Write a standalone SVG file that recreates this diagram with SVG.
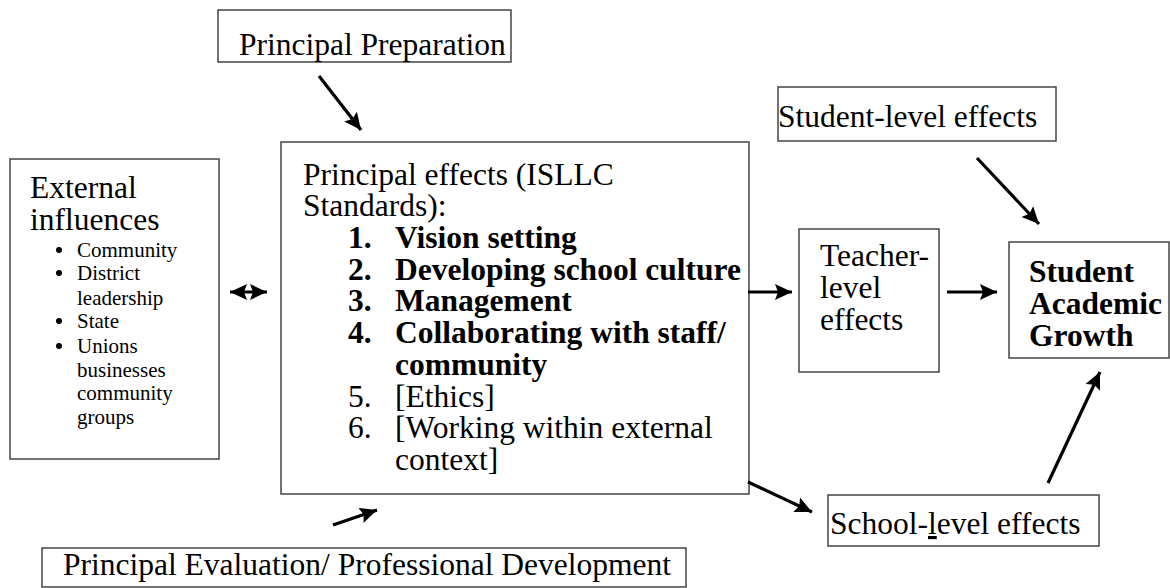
<svg xmlns="http://www.w3.org/2000/svg" width="1170" height="588" viewBox="0 0 1170 588" font-family="'Liberation Serif', Tinos, 'Times New Roman', Times, serif">
<style>
.box{fill:#fff;stroke:#444;stroke-width:1.5}
.t{font-family:'Liberation Serif', Tinos, 'Times New Roman', Times, serif;font-size:31.5px;fill:#000}
.b{font-weight:bold}
.s{font-family:'Liberation Serif', Tinos, 'Times New Roman', Times, serif;font-size:21px;fill:#000}
.c{stroke:#000;stroke-width:3.2;fill:none}
</style>
<defs>
<marker id="ah" markerUnits="userSpaceOnUse" markerWidth="20" markerHeight="18" refX="17" refY="8" orient="auto">
<path d="M0,0 L17,8 L0,16 L3,8 z" fill="#000"/>
</marker>
<marker id="as" markerUnits="userSpaceOnUse" markerWidth="20" markerHeight="18" refX="0" refY="8" orient="auto">
<path d="M17,0 L0,8 L17,16 L14,8 z" fill="#000"/>
</marker>
</defs>
<g id="prep">
<rect class="box" x="218" y="10" width="293" height="52"/>
<text class="t" x="239" y="55">Principal Preparation</text>
</g>
<g id="external">
<rect class="box" x="10" y="159" width="209" height="300"/>
<text class="t" x="30" y="198">External</text>
<text class="t" x="30" y="230">influences</text>
<g fill="#000">
<circle cx="59" cy="250" r="3"/>
<circle cx="59" cy="273" r="3"/>
<circle cx="59" cy="321" r="3"/>
<circle cx="59" cy="346" r="3"/>
</g>
<text class="s" x="77" y="257">Community</text>
<text class="s" x="77" y="280">District</text>
<text class="s" x="77" y="305">leadership</text>
<text class="s" x="77" y="328">State</text>
<text class="s" x="77" y="353">Unions</text>
<text class="s" x="77" y="377">businesses</text>
<text class="s" x="77" y="400">community</text>
<text class="s" x="77" y="424">groups</text>
</g>
<g id="principal">
<rect class="box" x="281" y="142" width="468" height="352"/>
<text class="t" x="303" y="185">Principal effects (ISLLC</text>
<text class="t" x="303" y="216">Standards):</text>
<text class="t b" x="348" y="248">1.</text><text class="t b" x="395" y="248">Vision setting</text>
<text class="t b" x="348" y="280">2.</text><text class="t b" x="395" y="280">Developing school culture</text>
<text class="t b" x="348" y="311">3.</text><text class="t b" x="395" y="311">Management</text>
<text class="t b" x="348" y="343">4.</text><text class="t b" x="395" y="343">Collaborating with staff/</text>
<text class="t b" x="395" y="375">community</text>
<text class="t" x="348" y="407">5.</text><text class="t" x="395" y="407">[Ethics]</text>
<text class="t" x="348" y="438">6.</text><text class="t" x="395" y="438">[Working within external</text>
<text class="t" x="395" y="470">context]</text>
</g>
<g id="teacher">
<rect class="box" x="799" y="229" width="140" height="143"/>
<text class="t" x="820" y="266">Teacher-</text>
<text class="t" x="820" y="298">level</text>
<text class="t" x="820" y="330">effects</text>
</g>
<g id="growth">
<rect class="box" x="1009" y="242" width="160" height="116"/>
<text class="t b" x="1029" y="282">Student</text>
<text class="t b" x="1029" y="314">Academic</text>
<text class="t b" x="1029" y="346">Growth</text>
</g>
<g id="studentlevel">
<rect class="box" x="778" y="87" width="278" height="54"/>
<text class="t" x="778" y="127">Student-level effects</text>
</g>
<g id="schoollevel">
<rect class="box" x="828" y="495" width="271" height="51"/>
<text class="t" x="830" y="534">School-<tspan text-decoration="underline">l</tspan>evel effects</text>
</g>
<g id="evaluation">
<rect class="box" x="42" y="548" width="644" height="39"/>
<text class="t" x="63" y="575">Principal Evaluation/ Professional Development</text>
</g>
<g id="connectors">
<line class="c" x1="319" y1="76" x2="361" y2="130" marker-end="url(#ah)"/>
<line class="c" x1="333" y1="525" x2="377" y2="510" marker-end="url(#ah)"/>
<line class="c" x1="230" y1="292" x2="267" y2="292" marker-start="url(#as)" marker-end="url(#ah)"/>
<line class="c" x1="748" y1="292" x2="792" y2="292" marker-end="url(#ah)"/>
<line class="c" x1="947" y1="292" x2="997" y2="292" marker-end="url(#ah)"/>
<line class="c" x1="977" y1="158" x2="1039" y2="224" marker-end="url(#ah)"/>
<line class="c" x1="748" y1="482" x2="812" y2="512" marker-end="url(#ah)"/>
<line class="c" x1="1048" y1="483" x2="1100" y2="372" marker-end="url(#ah)"/>
</g>
</svg>
